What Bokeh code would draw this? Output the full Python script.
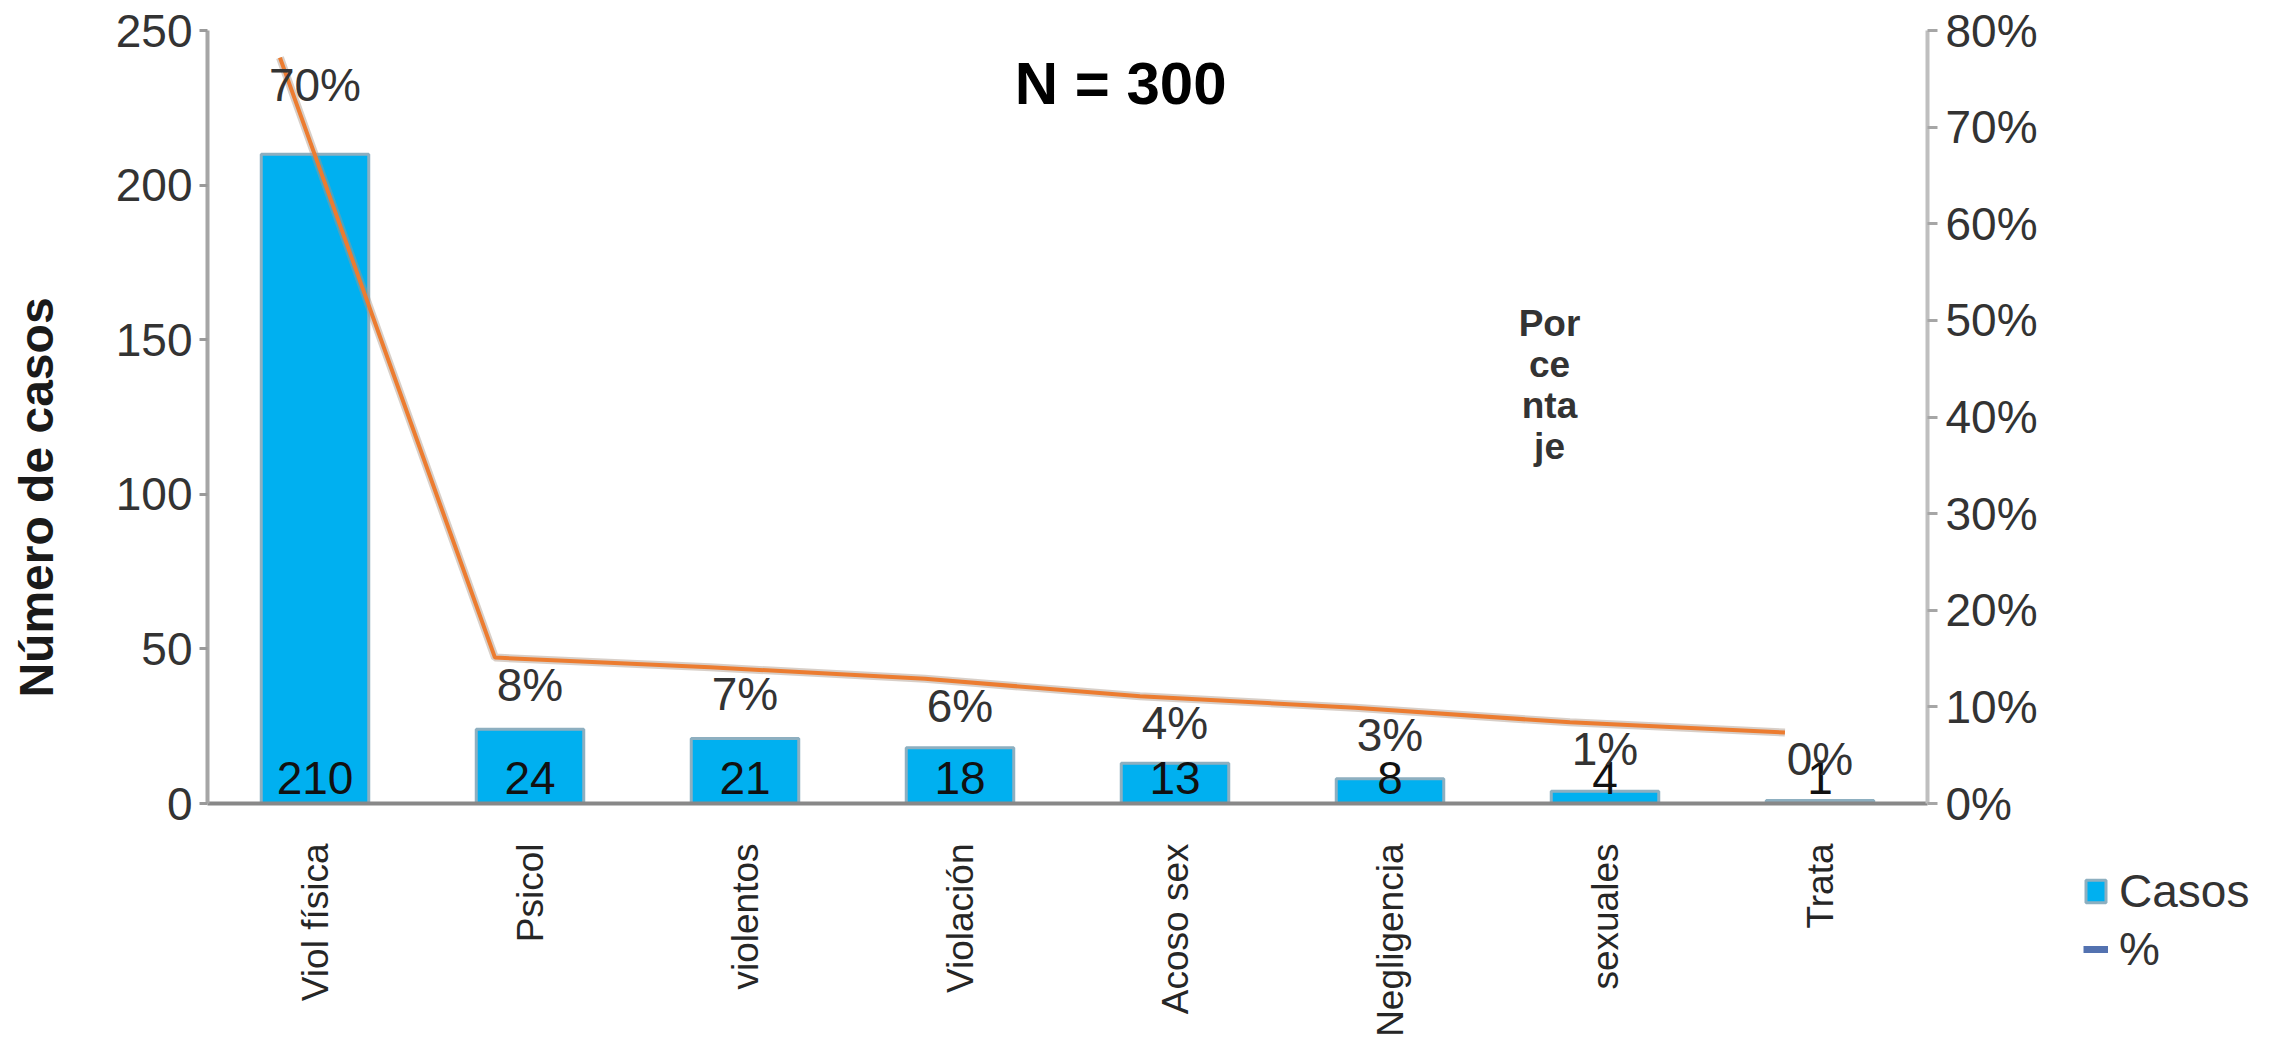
from math import pi
from bokeh.plotting import figure
from bokeh.models import (ColumnDataSource, Range1d, LinearAxis, FixedTicker,
                          NumeralTickFormatter, LabelSet, Label, Legend, LegendItem)
from bokeh.transform import dodge
from bokeh.core.properties import value
from bokeh.embed import file_html
from bokeh.resources import INLINE

# ---------------- data ----------------
categorias = ["Viol física", "Psicol", "violentos", "Violación",
              "Acoso sex", "Negligencia", "sexuales", "Trata"]
casos = [210, 24, 21, 18, 13, 8, 4, 1]
pct_linea = [0.772, 0.151, 0.141, 0.129, 0.111, 0.099, 0.084, 0.0735]
total_n = 300
casos_ticks = [0, 50, 100, 150, 200, 250]
pct_ticks = [0.0, 0.1, 0.2, 0.3, 0.4, 0.5, 0.6, 0.7, 0.8]
titulo = "N = 300"
eje_y_titulo = "Número de casos"
eje_y2_titulo = "Por\nce\nnta\nje"
leyenda = ["Casos", "%"]

# ---------------- layout constants (pixels) ----------------
FONT = "Liberation Sans"
W, H = 2280, 1040
FRAME_L, FRAME_R, FRAME_T, FRAME_B = 207, 1927, 30, 803
n = len(categorias)
Y_MAX, P_MAX = 250, 0.8

px_cat = (FRAME_R - FRAME_L) / n
px_y = (FRAME_B - FRAME_T) / Y_MAX
px_p = (FRAME_B - FRAME_T) / P_MAX
x_start = -0.5 - FRAME_L / px_cat
x_end = n - 0.5 + (W - FRAME_R) / px_cat
y_start, y_end = -(H - FRAME_B) / px_y, Y_MAX + FRAME_T / px_y
p_start, p_end = -(H - FRAME_B) / px_p, P_MAX + FRAME_T / px_p

src = ColumnDataSource(dict(
    x=list(range(n)),
    cat=categorias,
    casos=casos,
    casos_txt=[str(c) for c in casos],
    pct=pct_linea,
    pct_txt=[f"{round(c * 100 / total_n)}%" for c in casos],
))

p = figure(width=W, height=H,
           x_range=Range1d(x_start, x_end), y_range=Range1d(y_start, y_end),
           output_backend="svg", toolbar_location=None,
           min_border=0, min_border_left=0, min_border_right=0,
           min_border_top=0, min_border_bottom=0)
p.extra_y_ranges = {"pct": Range1d(p_start, p_end)}
p.outline_line_color = None
p.xgrid.visible = False
p.ygrid.visible = False
p.background_fill_color = "white"
p.border_fill_color = "white"

# bars
bars = p.vbar(x="x", top="casos", bottom=0, width=0.5, source=src,
              fill_color="#00B0F0", line_color="#8DAFC0", line_width=3)

# percentage line
p.line(x=dodge("x", -0.163), y="pct", source=src, y_range_name="pct",
       line_color="#A89484", line_alpha=0.45, line_width=8)
p.line(x=dodge("x", -0.163), y="pct", source=src, y_range_name="pct",
       line_color="#EC7C30", line_width=4)

# legend proxy for "%" (invisible point)
proxy = p.line(x=[float("nan")], y=[float("nan")], line_color="#5372B0", line_width=7)

# ---------------- axes ----------------
ya = p.yaxis[0]
ya.fixed_location = -0.5
ya.bounds = (0, Y_MAX)
ya.ticker = FixedTicker(ticks=casos_ticks)
ya.axis_line_color = "#A6A6A6"
ya.axis_line_width = 4
ya.major_tick_line_color = "#9A9A9A"
ya.major_tick_line_width = 3
ya.major_tick_out = 8
ya.major_tick_in = 0
ya.minor_tick_line_color = None
ya.major_label_standoff = 7
ya.major_label_text_font = FONT
ya.major_label_text_font_size = "46px"
ya.major_label_text_color = "#333333"

xa = p.xaxis[0]
xa.fixed_location = 0
xa.bounds = (-0.5, n - 0.5)
xa.ticker = FixedTicker(ticks=list(range(n)))
xa.major_label_overrides = {i: c for i, c in enumerate(categorias)}
xa.major_label_orientation = pi / 2
xa.axis_line_color = "#888888"
xa.axis_line_width = 4
xa.major_tick_line_color = None
xa.major_tick_out = 0
xa.major_tick_in = 0
xa.minor_tick_line_color = None
xa.major_label_standoff = 40
xa.major_label_text_font = FONT
xa.major_label_text_font_size = "37px"
xa.major_label_text_color = "#262626"

ax2 = LinearAxis(y_range_name="pct", fixed_location=n - 0.5, bounds=(0, P_MAX),
                 ticker=FixedTicker(ticks=pct_ticks),
                 formatter=NumeralTickFormatter(format="0%"))
ax2.axis_line_color = "#BFBFBF"
ax2.axis_line_width = 4
ax2.major_tick_line_color = "#A6A6A6"
ax2.major_tick_line_width = 3
ax2.major_tick_out = 10
ax2.major_tick_in = 0
ax2.minor_tick_line_color = None
ax2.major_label_standoff = 8
ax2.major_label_text_font = FONT
ax2.major_label_text_font_size = "46px"
ax2.major_label_text_color = "#333333"
p.add_layout(ax2, "right")

# ---------------- labels ----------------
vlab = LabelSet(x="x", y=0, text="casos_txt", source=src, y_offset=10,
                text_align="center", text_baseline="alphabetic",
                text_font=value(FONT), text_font_size="46px", text_color="#111111")
p.add_layout(vlab)

plab = LabelSet(x="x", y="pct", text="pct_txt", source=src, y_range_name="pct",
                y_offset=-27, text_align="center", text_baseline="middle",
                text_font=value(FONT), text_font_size="46px", text_color="#333333")
p.add_layout(plab)

# y-axis title
p.add_layout(Label(x=-0.5 - (FRAME_L - 36) / px_cat, y=(FRAME_B - 497) / px_y,
                   text=eje_y_titulo, angle=pi / 2,
                   text_align="center", text_baseline="middle",
                   text_font=FONT, text_font_size="48px",
                   text_font_style="bold", text_color="#1a1a1a"))

# chart title
p.add_layout(Label(x=3.747, y=232.9, text=titulo,
                   text_align="center", text_baseline="middle",
                   text_font=FONT, text_font_size="60px",
                   text_font_style="bold", text_color="#000000"))

# secondary axis title (broken into pieces as in the original)
p.add_layout(Label(x=5.742, y=162, text=eje_y2_titulo,
                   text_align="center", text_baseline="top",
                   text_line_height=1.0,
                   text_font=FONT, text_font_size="37px",
                   text_font_style="bold", text_color="#333333"))

legend = Legend(items=[LegendItem(label=leyenda[0], renderers=[bars]),
                       LegendItem(label=leyenda[1], renderers=[proxy])],
                location=(2083, 64), orientation="vertical",
                padding=0, margin=0, spacing=4,
                glyph_width=25, glyph_height=28, label_standoff=11,
                label_text_font=FONT, label_text_font_size="46px",
                label_text_color="#333333",
                border_line_color=None, background_fill_alpha=0)
p.add_layout(legend)

open("out.html", "w").write(file_html(p, INLINE))
